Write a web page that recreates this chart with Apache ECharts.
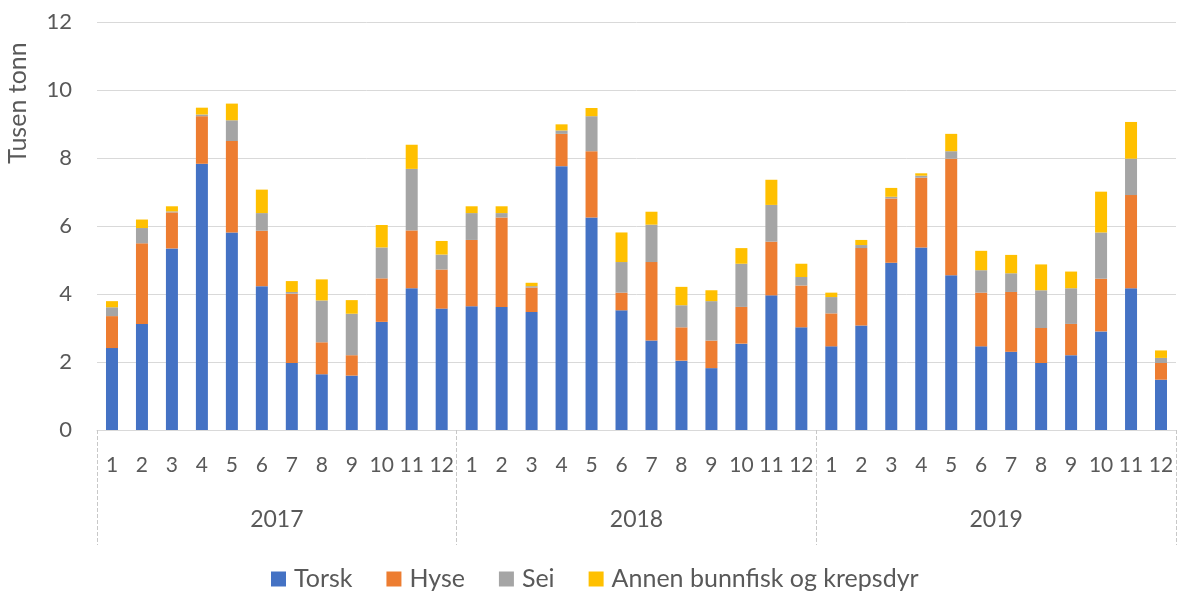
<!DOCTYPE html>
<html>
<head>
<meta charset="utf-8">
<script src="https://cdn.jsdelivr.net/npm/echarts@6/dist/echarts.min.js"></script>
<style>html,body{margin:0;padding:0;background:#fff}#c{width:1178px;height:592px}</style>
</head>
<body>
<div id="c"></div>
<script>
const years = ['2017', '2018', '2019'];
const months = ['1','2','3','4','5','6','7','8','9','10','11','12'];
const yTicks = [0, 2, 4, 6, 8, 10, 12];
const seriesNames = ['Torsk', 'Hyse', 'Sei', 'Annen bunnfisk og krepsdyr'];
const torsk = [2.41,3.12,5.34,7.83,5.81,4.23,1.97,1.64,1.60,3.18,4.17,3.57,
               3.64,3.62,3.47,7.76,6.25,3.52,2.63,2.04,1.82,2.54,3.96,3.02,
               2.46,3.07,4.92,5.37,4.55,2.46,2.30,1.97,2.20,2.90,4.17,1.48];
const hyse  = [0.94,2.37,1.06,1.40,2.69,1.63,2.04,0.94,0.60,1.28,1.70,1.15,
               1.95,2.63,0.72,0.95,1.95,0.52,2.31,0.98,0.81,1.08,1.58,1.23,
               0.97,2.28,1.89,2.05,3.43,1.58,1.76,1.03,0.92,1.55,2.74,0.49];
const sei   = [0.26,0.45,0.03,0.05,0.61,0.52,0.05,1.23,1.22,0.91,1.81,0.44,
               0.79,0.13,0.04,0.10,1.03,0.90,1.10,0.65,1.16,1.27,1.08,0.25,
               0.48,0.09,0.05,0.06,0.22,0.66,0.55,1.11,1.05,1.36,1.07,0.15];
const annen = [0.18,0.25,0.15,0.20,0.49,0.69,0.32,0.62,0.40,0.66,0.71,0.40,
               0.20,0.20,0.10,0.18,0.24,0.87,0.38,0.54,0.32,0.46,0.74,0.39,
               0.13,0.15,0.26,0.07,0.51,0.57,0.54,0.76,0.49,1.20,1.08,0.22];

const colors = ['#4472C4', '#ED7D31', '#A5A5A5', '#FFC000'];
const values = [torsk, hyse, sei, annen];
const categories = [];
years.forEach(y => months.forEach(m => categories.push(m)));
const FONT = 'Lato, "Open Sans", sans-serif';
const TXT = '#595959';

const chart = echarts.init(document.getElementById('c'));
chart.setOption({
  animation: false,
  textStyle: { fontFamily: FONT },
  grid: { left: 97, right: 2, top: 22, bottom: 162 },
  legend: {
    top: 565, left: 271, padding: 0,
    icon: 'rect', itemWidth: 15, itemHeight: 15, itemGap: 34,
    textStyle: { fontSize: 25, lineHeight: 28, color: TXT, fontFamily: FONT, padding: [0, 0, 0, 3] },
    data: seriesNames
  },
  graphic: [{
    type: 'text', x: 18, y: 103, rotation: Math.PI / 2,
    style: { text: 'Tusen tonn', fontSize: 25, fill: TXT, fontFamily: FONT,
             align: 'center', verticalAlign: 'middle' }
  }],
  xAxis: [{
    type: 'category', data: categories, gridIndex: 0,
    axisLine: { lineStyle: { color: '#d9d9d9' } },
    axisTick: { show: false },
    axisLabel: { interval: 0, margin: 25, fontSize: 21, color: TXT, fontFamily: FONT }
  }, {
    type: 'category', data: years, gridIndex: 0, position: 'bottom',
    axisLine: { show: false },
    axisTick: { show: true, length: 115, interval: 0,
                lineStyle: { color: '#c8c8c8', type: 'dashed' } },
    axisLabel: { interval: 0, margin: 78, fontSize: 23, color: TXT, fontFamily: FONT }
  }],
  yAxis: {
    type: 'value', min: yTicks[0], max: yTicks[yTicks.length - 1], interval: 2,
    axisLine: { show: false }, axisTick: { show: false },
    splitLine: { lineStyle: { color: '#d9d9d9' } },
    axisLabel: { fontSize: 22, color: TXT, margin: 25, fontFamily: FONT }
  },
  series: seriesNames.map((n, i) => ({
    name: n, type: 'bar', stack: 'tot', xAxisIndex: 0,
    barWidth: 12, data: values[i],
    itemStyle: { color: colors[i] }
  }))
});
</script>
</body>
</html>
